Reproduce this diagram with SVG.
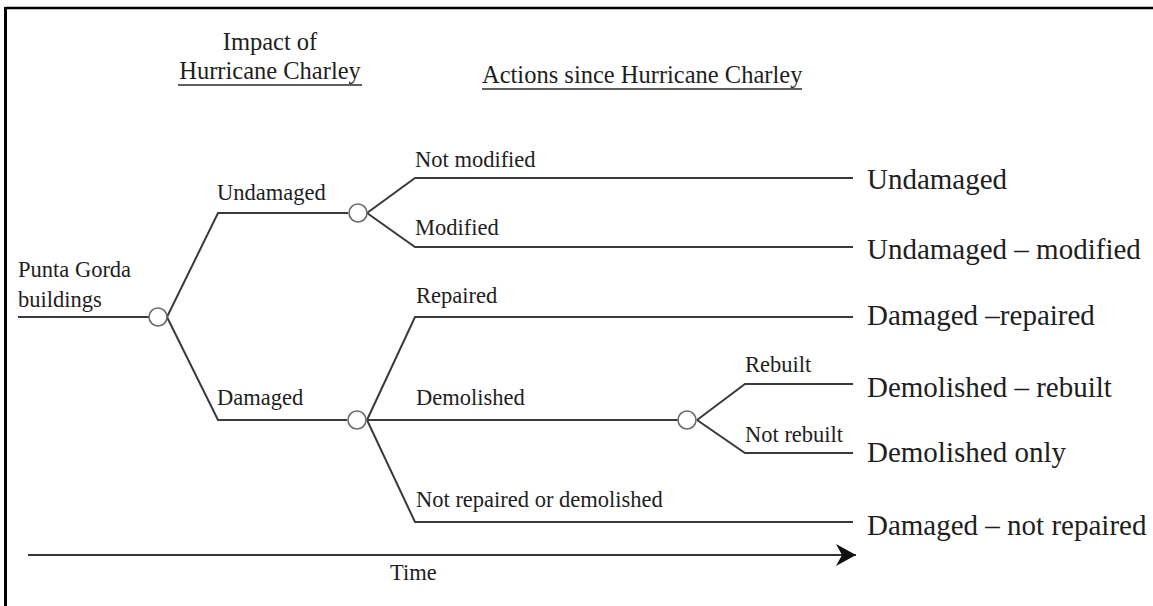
<svg xmlns="http://www.w3.org/2000/svg" width="1153" height="606" viewBox="0 0 1153 606">
<style>
.ln{fill:none;stroke:#3a3a3a;stroke-width:2}
.nd{fill:#fff;stroke:#6a6a6a;stroke-width:1.6}
.t{font-family:"Liberation Serif","Times New Roman",serif;fill:#1e1e1e}
.s{font-size:22.5px}
.h{font-size:24.5px}
.b{font-size:29px}
.u{stroke:#2a2a2a;stroke-width:1.6}
</style>
<defs>
<marker id="ah" markerWidth="22" markerHeight="22" refX="20" refY="11" orient="auto" markerUnits="userSpaceOnUse">
<path d="M0,0 L20,11 L0,22 L6,11 Z" fill="#111"/>
</marker>
</defs>
<rect width="1153" height="606" fill="#fff"/>
<g id="frame">
<line x1="5.5" y1="8" x2="1153" y2="8" stroke="#000" stroke-width="2.5"/>
<line x1="5.5" y1="7" x2="5.5" y2="606" stroke="#000" stroke-width="3"/>
</g>
<g id="headers">
<text class="t h" x="270" y="50" text-anchor="middle">Impact of</text>
<text class="t h" x="270" y="79" text-anchor="middle">Hurricane Charley</text>
<line class="u" x1="178" y1="85" x2="362" y2="85"/>
<text class="t h" x="482" y="83">Actions since Hurricane Charley</text>
<line class="u" x1="482" y1="89" x2="802" y2="89"/>
</g>
<g id="connectors">
<path class="ln" d="M18,317 H149"/>
<path class="ln" d="M167,317 L218,213 H348"/>
<path class="ln" d="M167,317 L218,420 H347"/>
<path class="ln" d="M367,213 L415,178 H853"/>
<path class="ln" d="M367,213 L415,247 H853"/>
<path class="ln" d="M367,420 L415,317 H853"/>
<path class="ln" d="M367,420 H678"/>
<path class="ln" d="M367,420 L415,522 H853"/>
<path class="ln" d="M697,420 L745,384 H853"/>
<path class="ln" d="M697,420 L745,453 H853"/>
<line x1="28" y1="555" x2="856" y2="555" stroke="#333" stroke-width="2" marker-end="url(#ah)"/>
</g>
<g id="root">
<text class="t s" x="18" y="277">Punta Gorda</text>
<text class="t s" x="18" y="307">buildings</text>
<circle class="nd" cx="158" cy="317" r="9"/>
</g>
<g id="undamaged">
<text class="t s" x="217" y="200">Undamaged</text>
<circle class="nd" cx="358" cy="213" r="9"/>
</g>
<g id="damaged">
<text class="t s" x="217" y="405">Damaged</text>
<circle class="nd" cx="357" cy="420" r="9"/>
</g>
<g id="demolished">
<text class="t s" x="416" y="405">Demolished</text>
<circle class="nd" cx="687" cy="420" r="9"/>
</g>
<g id="branch-labels">
<text class="t s" x="415" y="167">Not modified</text>
<text class="t s" x="415" y="235">Modified</text>
<text class="t s" x="416" y="303">Repaired</text>
<text class="t s" x="416" y="507">Not repaired or demolished</text>
<text class="t s" x="745" y="372">Rebuilt</text>
<text class="t s" x="745" y="442">Not rebuilt</text>
</g>
<g id="outcomes">
<text class="t b" x="867" y="189">Undamaged</text>
<text class="t b" x="867" y="259">Undamaged – modified</text>
<text class="t b" x="867" y="325">Damaged –repaired</text>
<text class="t b" x="867" y="397">Demolished – rebuilt</text>
<text class="t b" x="867" y="462">Demolished only</text>
<text class="t b" x="867" y="535">Damaged – not repaired</text>
</g>
<g id="time">
<text class="t s" x="390" y="580">Time</text>
</g>
</svg>
